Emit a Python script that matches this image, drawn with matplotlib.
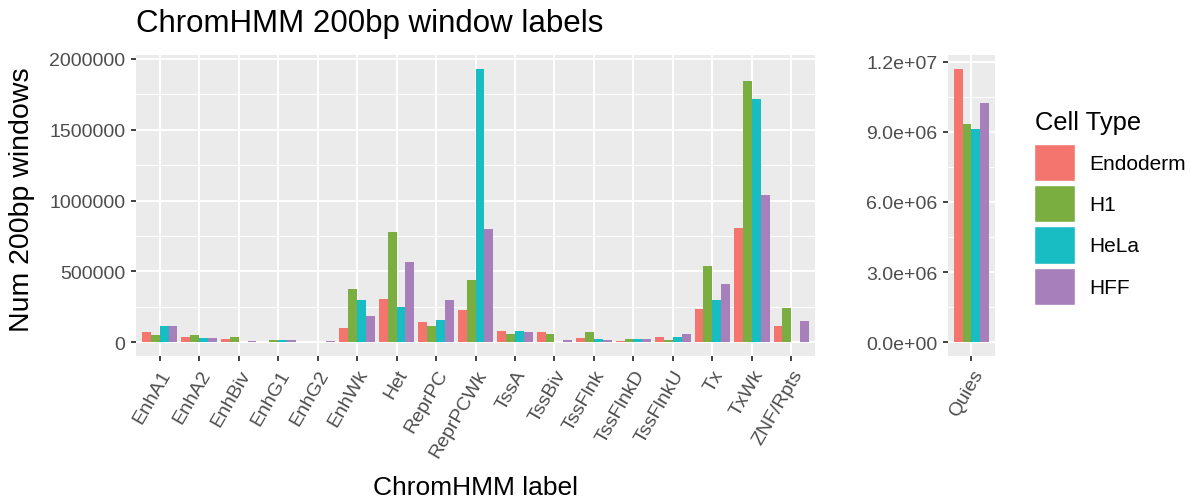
import numpy as np
import matplotlib
matplotlib.use('Agg')
import matplotlib.pyplot as plt
from matplotlib.patches import Patch
from matplotlib.ticker import MultipleLocator, FuncFormatter

plt.rcParams['font.family'] = ['Liberation Sans', 'DejaVu Sans']

#%% data: number of 200bp windows per ChromHMM label and cell type
labels = ['EnhA1', 'EnhA2', 'EnhBiv', 'EnhG1', 'EnhG2', 'EnhWk', 'Het', 'ReprPC',
          'ReprPCWk', 'TssA', 'TssBiv', 'TssFlnk', 'TssFlnkD', 'TssFlnkU', 'Tx',
          'TxWk', 'ZNF/Rpts']
cell_types = ['Endoderm', 'H1', 'HeLa', 'HFF']

endoderm = [75000, 40000, 23000, 3000, 1000, 100000, 309000, 140000, 226000,
            81000, 70000, 33000, 9000, 40000, 237000, 807000, 112000]
h1 = [55000, 55000, 35000, 14000, 5000, 377000, 779000, 116000, 442000,
      56000, 56000, 70000, 21000, 14000, 535000, 1844000, 244000]
hela = [116000, 28000, 1500, 14000, 5000, 302000, 249000, 156000, 1930000,
        81000, 1000, 26000, 26000, 40000, 298000, 1714000, 5000]
hff = [116000, 28000, 9000, 14000, 9000, 186000, 567000, 298000, 800000,
       74000, 14000, 14000, 26000, 58000, 409000, 1042000, 149000]

quies_label = ['Quies']
quies = [11700000, 9340000, 9130000, 10240000]

colors = ['#F4756E', '#7BAE41', '#18BDC4', '#A67FBB']

#%% helpers for the ggplot look
def style_panel(ax):
    ax.set_facecolor('#EBEBEB')
    for s in ax.spines.values():
        s.set_visible(False)
    ax.grid(which='major', color='white', linewidth=1.4)
    ax.grid(which='minor', axis='y', color='white', linewidth=0.7)
    ax.set_axisbelow(True)
    ax.tick_params(which='major', length=3.5, width=1.3, color='#333333',
                   labelcolor='#4D4D4D', labelsize=14, pad=4)
    ax.tick_params(which='minor', length=0)

def grouped_bars(ax, series, ncat):
    x = np.arange(ncat)
    w = 0.9 / len(series)
    for i, vals in enumerate(series):
        ax.bar(x - 0.45 + w * (i + 0.5), vals, width=w, color=colors[i], linewidth=0)
    top = max(max(v) for v in series)
    ax.set_ylim(-0.05 * top, 1.05 * top)
    ax.set_xlim(-0.6, ncat - 0.4)
    ax.set_xticks(x)

fig = plt.figure(figsize=(11.9, 5.02), dpi=100)

#%% left panel
ax1 = fig.add_axes([136/1190, 1 - 357/502, 679/1190, 301/502])
grouped_bars(ax1, [endoderm, h1, hela, hff], len(labels))
style_panel(ax1)
ax1.yaxis.set_major_locator(MultipleLocator(500000))
ax1.yaxis.set_minor_locator(MultipleLocator(250000))
ax1.yaxis.set_major_formatter(FuncFormatter(lambda v, p: '%d' % v))
ax1.set_xticklabels(labels, rotation=60, ha='right', rotation_mode='anchor')

#%% right panel (Quies on its own scale)
ax2 = fig.add_axes([948/1190, 1 - 357/502, 47/1190, 301/502])
grouped_bars(ax2, [[v] for v in quies], 1)
style_panel(ax2)
ax2.yaxis.set_major_locator(MultipleLocator(3000000))
ax2.yaxis.set_minor_locator(MultipleLocator(1500000))
ax2.yaxis.set_major_formatter(FuncFormatter(lambda v, p: '%.1e' % v))
ax2.set_xticklabels(quies_label, rotation=60, ha='right', rotation_mode='anchor')

#%% titles
fig.text(136/1190, 1 - 32/502, 'ChromHMM 200bp window labels', fontsize=22.5,
         ha='left', va='baseline')
fig.text(22/1190, 1 - 200/502, 'Num 200bp windows', fontsize=20.5, rotation=90,
         ha='center', va='center')
fig.text(475/1190, 1 - 488/502, 'ChromHMM label', fontsize=19,
         ha='center', va='center')

#%% legend
fig.text(1035/1190, 1 - 130/502, 'Cell Type', fontsize=18.4,
         ha='left', va='baseline')
handles = [Patch(facecolor=c, edgecolor='white', linewidth=1) for c in colors]
leg = fig.legend(handles, cell_types, loc='upper left',
                 bbox_to_anchor=(1034/1190, 1 - 145/502), frameon=False,
                 fontsize=15, handlelength=1.95, handleheight=2.36,
                 labelspacing=0.2, handletextpad=0.7, borderpad=0,
                 borderaxespad=0)

plt.savefig('out.png', dpi=100)
